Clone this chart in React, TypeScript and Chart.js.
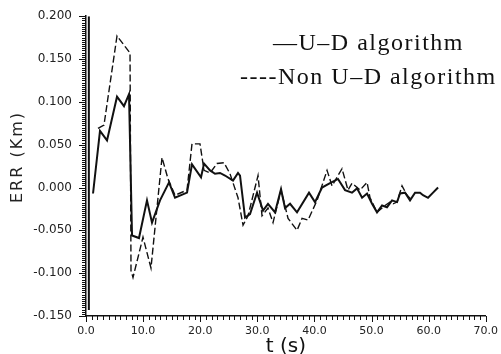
import React, { useEffect, useRef } from "react";
import { Chart, registerables } from "chart.js";

Chart.register(...registerables);

// U-D algorithm (solid). null = break in the line
const udT: number[] = [0.5, 0.5, 0.6, 1.23, 2.45, 3.68, 5.43, 6.65, 7.53, 8.06, 9.28, 10.68, 11.56, 12.96, 14.54, 15.59, 17.69, 18.56, 20.14, 20.67, 21.72, 22.59, 23.47, 24.34, 25.74, 26.62, 26.97, 27.85, 28.72, 29.95, 31.0, 31.87, 33.1, 34.15, 34.85, 35.73, 36.95, 39.05, 40.1, 41.33, 42.73, 44.13, 45.36, 46.58, 47.46, 48.34, 49.21, 50.09, 50.96, 51.84, 52.71, 53.59, 54.47, 54.99, 55.87, 56.74, 57.62, 58.49, 59.02, 59.89, 60.77, 61.65];
const udV: (number | null)[] = [0.2, -0.143, null, -0.007, 0.066, 0.055, 0.106, 0.095, 0.109, -0.056, -0.059, -0.015, -0.041, -0.015, 0.006, -0.012, -0.006, 0.027, 0.012, 0.028, 0.02, 0.016, 0.017, 0.014, 0.008, 0.017, 0.014, -0.035, -0.031, -0.006, -0.027, -0.019, -0.029, -0.002, -0.024, -0.019, -0.029, -0.006, -0.017, 0.0, 0.005, 0.01, -0.003, -0.006, -0.001, -0.012, -0.007, -0.019, -0.029, -0.021, -0.023, -0.015, -0.017, -0.007, -0.006, -0.015, -0.006, -0.006, -0.009, -0.012, -0.006, 0.0];

// Non U-D algorithm (dashed)
const nonUdT: number[] = [2.1, 3.15, 5.43, 7.71, 7.88, 8.23, 9.98, 11.38, 13.31, 14.36, 15.59, 17.69, 18.56, 19.96, 20.67, 21.72, 22.94, 24.17, 25.22, 26.62, 27.5, 28.37, 30.12, 30.82, 31.87, 32.75, 34.15, 35.38, 36.95, 37.83, 38.88, 40.46, 42.21, 43.08, 44.83, 45.88, 46.58, 47.99, 49.21, 49.74, 50.96, 52.36, 53.24, 53.77, 54.47, 55.34, 56.22, 57.09];
const nonUdV: number[] = [0.069, 0.073, 0.177, 0.157, -0.097, -0.105, -0.058, -0.094, 0.035, 0.01, -0.009, -0.003, 0.051, 0.051, 0.02, 0.017, 0.028, 0.029, 0.016, -0.012, -0.044, -0.033, 0.014, -0.033, -0.024, -0.041, -0.003, -0.036, -0.05, -0.036, -0.038, -0.015, 0.02, 0.002, 0.022, -0.003, 0.005, -0.003, 0.006, -0.012, -0.029, -0.021, -0.017, -0.019, -0.017, 0.002, -0.009, -0.015];

const xMajor: number[] = [0, 10, 20, 30, 40, 50, 60, 70];
const xLabels: string[] = ["0.0", "10.0", "20.0", "30.0", "40.0", "50.0", "60.0", "70.0"];
const yMajor: number[] = [-0.15, -0.1, -0.05, 0, 0.05, 0.1, 0.15, 0.2];
const yLabels: string[] = ["-0.150", "-0.100", "-0.050", "0.000", "0.050", "0.100", "0.150", "0.200"];
const xMinorStep = 1;
const yMinorStep = 0.0025;

const seriesNames: string[] = ["U–D algorithm", "Non U–D algorithm"];

function labelFor(v: number, majors: number[], labels: string[]): string {
  for (let i = 0; i < majors.length; i++) {
    if (Math.abs(majors[i] - v) < 1e-6) return labels[i];
  }
  return "";
}

function tickValues(min: number, max: number, step: number): number[] {
  const out: number[] = [];
  const n = Math.round((max - min) / step);
  for (let i = 0; i <= n; i++) out.push(Math.round((min + i * step) * 1e6) / 1e6);
  return out;
}

// draws the dense comb of tick marks through the chart's own scales
const tickMarks = {
  id: "tickMarks",
  afterDraw(chart: any) {
    const { ctx, chartArea, scales } = chart;
    ctx.save();
    ctx.strokeStyle = "#111";
    ctx.lineWidth = 1;
    ctx.beginPath();
    for (const v of tickValues(yMajor[0], yMajor[yMajor.length - 1], yMinorStep)) {
      const py = Math.round(scales.y.getPixelForValue(v)) + 0.5;
      const len = labelFor(v, yMajor, yLabels) ? 7 : 4;
      ctx.moveTo(chartArea.left - len, py);
      ctx.lineTo(chartArea.left, py);
    }
    for (const v of tickValues(xMajor[0], xMajor[xMajor.length - 1], xMinorStep)) {
      const px = Math.round(scales.x.getPixelForValue(v)) + 0.5;
      const len = labelFor(v, xMajor, xLabels) ? 6 : 4;
      ctx.moveTo(px, chartArea.bottom);
      ctx.lineTo(px, chartArea.bottom + len);
    }
    ctx.stroke();
    ctx.restore();
  },
};

export default function App() {
  const ref = useRef<HTMLCanvasElement | null>(null);

  useEffect(() => {
    if (!ref.current) return;
    const chart = new Chart(ref.current, {
      type: "line",
      data: {
        datasets: [
          {
            label: seriesNames[0],
            data: udT.map((t, i) => ({ x: t, y: udV[i] as any })),
            borderColor: "#111",
            borderWidth: 2,
            pointRadius: 0,
            tension: 0,
            spanGaps: false,
          },
          {
            label: seriesNames[1],
            data: nonUdT.map((t, i) => ({ x: t, y: nonUdV[i] })),
            borderColor: "#111",
            borderWidth: 1.4,
            borderDash: [7, 3],
            pointRadius: 0,
            tension: 0,
          },
        ],
      },
      plugins: [tickMarks],
      options: {
        responsive: false,
        animation: false,
        layout: { padding: { top: 15, right: 15, left: 0, bottom: 0 } },
        plugins: { legend: { display: false }, tooltip: { enabled: false } },
        scales: {
          x: {
            type: "linear",
            min: xMajor[0],
            max: xMajor[xMajor.length - 1],
            afterFit: (s: any) => {
              s.height = 38;
            },
            grid: { display: false, drawOnChartArea: false, drawTicks: true, tickLength: 6 },
            border: { display: true, color: "#111", width: 1.5 },
            ticks: {
              stepSize: 10,
              autoSkip: false,
              maxRotation: 0,
              padding: 3,
              color: "#222",
              font: { family: "DejaVu Sans", size: 11 },
              callback: (v: any) => labelFor(Number(v), xMajor, xLabels),
            },
            title: {
              display: true,
              text: "t (s)",
              color: "#111",
              font: { family: "DejaVu Sans", size: 20, lineHeight: 1 },
              padding: { top: 0, bottom: -3 },
            },
          },
          y: {
            type: "linear",
            min: yMajor[0],
            max: yMajor[yMajor.length - 1],
            afterFit: (s: any) => {
              s.width = 86;
            },
            grid: { display: false, drawOnChartArea: false, drawTicks: true, tickLength: 5 },
            border: { display: true, color: "#111", width: 1.5 },
            ticks: {
              stepSize: 0.05,
              autoSkip: false,
              padding: 9,
              color: "#222",
              font: { family: "DejaVu Sans", size: 12 },
              callback: (v: any) => labelFor(Number(v), yMajor, yLabels),
            },
          },
        },
      },
    });
    return () => chart.destroy();
  }, []);

  return (
    <div style={{ position: "absolute", left: 0, top: 0, width: 501, height: 354, background: "#fff" }}>
      <canvas ref={ref} width={501} height={354} style={{ display: "block" }} />
      <div
        style={{
          position: "absolute",
          left: 17,
          top: 157,
          transform: "translate(-50%, -50%) rotate(-90deg)",
          fontFamily: "DejaVu Sans",
          fontSize: 16,
          letterSpacing: 2,
          whiteSpace: "nowrap",
          color: "#222",
          lineHeight: "16px",
        }}
      >
        ERR (Km)
      </div>
      <div
        style={{
          position: "absolute",
          left: 273,
          top: 30,
          fontFamily: "Liberation Serif",
          fontSize: 24,
          lineHeight: "24px",
          letterSpacing: 1.5,
          whiteSpace: "nowrap",
          color: "#111",
        }}
      >
        {"—" + seriesNames[0]}
      </div>
      <div
        style={{
          position: "absolute",
          left: 240,
          top: 64,
          fontFamily: "Liberation Serif",
          fontSize: 24,
          lineHeight: "24px",
          letterSpacing: 1.5,
          whiteSpace: "nowrap",
          color: "#111",
        }}
      >
        {"----" + seriesNames[1]}
      </div>
    </div>
  );
}
